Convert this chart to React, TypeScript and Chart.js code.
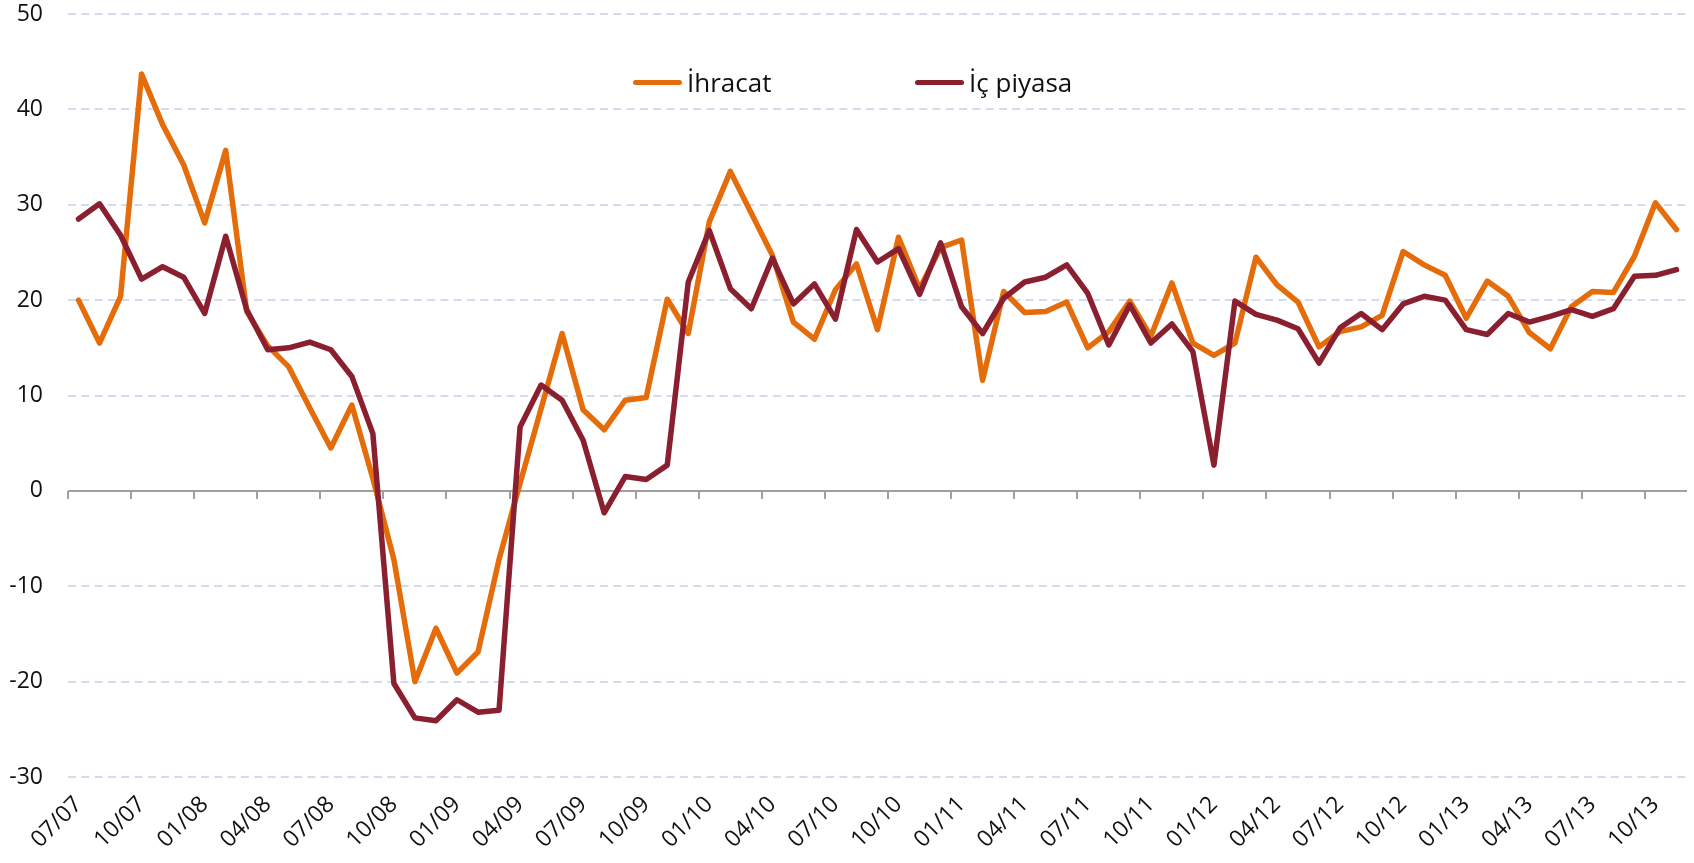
import React, { useEffect, useRef } from "react";
import { Chart, registerables } from "chart.js";

Chart.register(...registerables);

const categories = [
  "07/07", "08/07", "09/07", "10/07", "11/07", "12/07",
  "01/08", "02/08", "03/08", "04/08", "05/08", "06/08", "07/08", "08/08", "09/08", "10/08", "11/08", "12/08",
  "01/09", "02/09", "03/09", "04/09", "05/09", "06/09", "07/09", "08/09", "09/09", "10/09", "11/09", "12/09",
  "01/10", "02/10", "03/10", "04/10", "05/10", "06/10", "07/10", "08/10", "09/10", "10/10", "11/10", "12/10",
  "01/11", "02/11", "03/11", "04/11", "05/11", "06/11", "07/11", "08/11", "09/11", "10/11", "11/11", "12/11",
  "01/12", "02/12", "03/12", "04/12", "05/12", "06/12", "07/12", "08/12", "09/12", "10/12", "11/12", "12/12",
  "01/13", "02/13", "03/13", "04/13", "05/13", "06/13", "07/13", "08/13", "09/13", "10/13", "11/13",
];

const ihracat = [
  20.0, 15.5, 20.4, 43.7, 38.4, 34.2, 28.1, 35.7, 18.8, 15.2,
  13.0, 8.7, 4.5, 9.0, 1.3, -7.2, -20.0, -14.4, -19.1, -16.9,
  -7.2, 0.8, 8.6, 16.5, 8.5, 6.4, 9.5, 9.8, 20.1, 16.5,
  28.2, 33.5, 29.1, 24.7, 17.7, 15.9, 21.1, 23.8, 16.9, 26.6,
  21.2, 25.5, 26.3, 11.6, 20.9, 18.7, 18.8, 19.8, 15.0, 16.7,
  19.9, 16.2, 21.8, 15.5, 14.2, 15.5, 24.5, 21.6, 19.8, 15.1,
  16.7, 17.2, 18.4, 25.1, 23.7, 22.6, 18.1, 22.0, 20.4, 16.6,
  14.9, 19.3, 20.9, 20.8, 24.6, 30.2, 27.4,
];

const icPiyasa = [
  28.5, 30.1, 26.8, 22.2, 23.5, 22.4, 18.6, 26.7, 19.0, 14.8,
  15.0, 15.6, 14.8, 12.0, 6.0, -20.2, -23.8, -24.1, -21.9, -23.2,
  -23.0, 6.7, 11.1, 9.5, 5.3, -2.3, 1.5, 1.2, 2.7, 21.9,
  27.3, 21.2, 19.1, 24.4, 19.6, 21.7, 18.0, 27.4, 24.0, 25.4,
  20.6, 26.0, 19.3, 16.5, 20.2, 21.9, 22.4, 23.7, 20.7, 15.3,
  19.5, 15.5, 17.5, 14.6, 2.7, 19.9, 18.5, 17.9, 17.0, 13.4,
  17.1, 18.6, 16.9, 19.6, 20.4, 20.0, 16.9, 16.4, 18.6, 17.7,
  18.3, 19.0, 18.3, 19.1, 22.5, 22.6, 23.2,
];

const seriesNames = ["İhracat", "İç piyasa"];
const seriesColors = ["#E46C0A", "#8A1F30"];
const yMin = -30;
const yMax = 50;
const yStep = 10;
const labelEvery = 3;

const FONT = "'Open Sans', 'Noto Sans', sans-serif";

const zeroAxisPlugin = {
  id: "zeroAxis",
  beforeDatasetsDraw(chart: any) {
    const { ctx, chartArea, scales } = chart;
    const xs = scales.x;
    const ys = scales.y;
    const y0 = Math.round(ys.getPixelForValue(0));
    const half = (xs.getPixelForValue(1) - xs.getPixelForValue(0)) / 2;
    ctx.save();
    ctx.strokeStyle = "#A0A0A0";
    ctx.lineWidth = 2;
    ctx.beginPath();
    ctx.moveTo(chartArea.left, y0);
    ctx.lineTo(chartArea.right, y0);
    ctx.stroke();
    ctx.beginPath();
    for (let i = 0; i < categories.length; i += labelEvery) {
      const x = Math.round(xs.getPixelForValue(i) - half);
      ctx.moveTo(x, y0);
      ctx.lineTo(x, y0 + 8);
    }
    ctx.stroke();
    ctx.restore();
  },
};

export default function App() {
  const canvasRef = useRef<HTMLCanvasElement | null>(null);

  useEffect(() => {
    if (!canvasRef.current) return;
    const chart = new Chart(canvasRef.current, {
      type: "line",
      data: {
        labels: categories,
        datasets: [
          {
            label: seriesNames[0],
            data: ihracat,
            borderColor: seriesColors[0],
            backgroundColor: seriesColors[0],
            borderWidth: 5.5,
            pointRadius: 0,
            tension: 0,
            borderJoinStyle: "round",
            borderCapStyle: "round",
            order: 2,
          },
          {
            label: seriesNames[1],
            data: icPiyasa,
            borderColor: seriesColors[1],
            backgroundColor: seriesColors[1],
            borderWidth: 5.5,
            pointRadius: 0,
            tension: 0,
            borderJoinStyle: "round",
            borderCapStyle: "round",
            order: 1,
          },
        ],
      },
      options: {
        animation: false,
        responsive: true,
        maintainAspectRatio: false,
        layout: { padding: { top: 14, right: 7, bottom: 0, left: 0 } },
        plugins: {
          legend: { display: false },
          tooltip: { enabled: false },
        },
        scales: {
          x: {
            type: "category",
            offset: true,
            grid: { display: false, drawTicks: false },
            border: { display: false },
            ticks: {
              autoSkip: false,
              minRotation: 45,
              maxRotation: 45,
              padding: 14,
              color: "#111111",
              font: { family: FONT, size: 23 },
              callback: (_v: any, idx: number) =>
                idx % labelEvery === 0 ? categories[idx] : null,
            },
            afterFit: (scale: any) => {
              scale.height = 86;
              scale.paddingLeft = 0;
              scale.paddingRight = 0;
            },
          },
          y: {
            min: yMin,
            max: yMax,
            grid: {
              color: (c: any) =>
                c.tick && c.tick.value === 0 ? "rgba(0,0,0,0)" : "#D2DCEE",
              lineWidth: 2,
              drawTicks: false,
            },
            border: { display: false, dash: [8, 5.3] },
            ticks: {
              stepSize: yStep,
              padding: 25,
              color: "#111111",
              font: { family: FONT, size: 23 },
            },
            afterFit: (scale: any) => {
              scale.width = 68;
              scale.paddingTop = 0;
              scale.paddingBottom = 0;
            },
          },
        },
      },
      plugins: [zeroAxisPlugin],
    });
    return () => chart.destroy();
  }, []);

  const legendItem = (i: number, left: number) => (
    <div
      key={i}
      style={{
        position: "absolute",
        left,
        top: 82,
        transform: "translateY(-50%)",
        display: "flex",
        alignItems: "center",
        fontFamily: FONT,
        fontSize: 26,
        color: "#111111",
        whiteSpace: "nowrap",
      }}
    >
      <span
        style={{
          display: "inline-block",
          width: 49,
          height: 5,
          borderRadius: 3,
          background: seriesColors[i],
          marginRight: 5,
        }}
      />
      <span>{seriesNames[i]}</span>
    </div>
  );

  return (
    <div
      style={{
        position: "fixed",
        left: 0,
        top: 0,
        width: 1694,
        height: 863,
        background: "#ffffff",
      }}
    >
      <canvas ref={canvasRef} />
      {legendItem(0, 633)}
      {legendItem(1, 915)}
    </div>
  );
}
